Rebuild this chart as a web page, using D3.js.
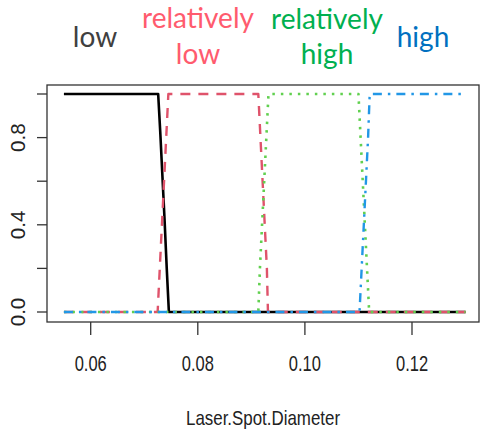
<!DOCTYPE html>
<html>
<head>
<meta charset="utf-8">
<script src="https://cdn.jsdelivr.net/npm/d3@7"></script>
<style>
	body { margin: 0; background: #fff; }
	svg { display: block; }
</style>
</head>
<body>
<div id="chart"></div>
<script>
(function(){
	'use strict';

	// x values (Laser.Spot.Diameter) and predicted probability for each class
	var xLow = [0.055, 0.0726, 0.0730, 0.0734, 0.0738, 0.0742, 0.0746, 0.13];
	var yLow = [1, 1, 0.82, 0.62, 0.42, 0.2, 0, 0];

	var xRelLow = [0.055, 0.0725, 0.0729, 0.0733, 0.0737, 0.0741, 0.0745, 0.0913, 0.0917, 0.0921, 0.0925, 0.0929, 0.0931, 0.13];
	var yRelLow = [0, 0, 0.2, 0.4, 0.6, 0.8, 1, 1, 0.8, 0.6, 0.4, 0.2, 0, 0];

	var xRelHigh = [0.055, 0.0913, 0.0916, 0.0920, 0.0924, 0.0928, 0.0932, 0.1100, 0.1104, 0.1108, 0.1112, 0.1116, 0.1120, 0.13];
	var yRelHigh = [0, 0, 0.2, 0.4, 0.6, 0.8, 1, 1, 0.8, 0.6, 0.4, 0.2, 0, 0];

	var xHigh = [0.055, 0.1102, 0.1106, 0.1110, 0.1114, 0.1118, 0.1121, 0.13];
	var yHigh = [0, 0, 0.2, 0.4, 0.6, 0.8, 1, 1];

	var xTicks = [0.06, 0.08, 0.10, 0.12];
	var yTicks = [0, 0.2, 0.4, 0.6, 0.8, 1.0];
	var yTickLabels = ["0.0", "", "0.4", "", "0.8", ""];

	var classNames = ["low", "relatively low", "relatively high", "high"];
	var lineColors = ["#000000", "#DF536B", "#61D04F", "#2297E6"];
	var textColors = ["#404040", "#FF5B6E", "#00B050", "#0070C0"];

	var width = 480, height = 429;
	var box = {left: 47, top: 85, right: 479, bottom: 322};

	var svg = d3.select("#chart").append("svg")
		.attr("width", width)
		.attr("height", height);

	var xScale = d3.scaleLinear().domain([0.06, 0.12]).range([90.7, 412]);
	var yScale = d3.scaleLinear().domain([0, 1]).range([312, 94]);

	// plot frame
	svg.append("rect")
		.attr("x", box.left)
		.attr("y", box.top)
		.attr("width", box.right - box.left)
		.attr("height", box.bottom - box.top)
		.attr("fill", "none")
		.attr("stroke", "#333")
		.attr("stroke-width", 1.3);

	// y axis
	var yAxis = svg.append("g").attr("class", "axis");
	yAxis.selectAll("line")
		.data(yTicks)
	  .enter().append("line")
		.attr("x1", 37).attr("x2", box.left)
		.attr("y1", yScale).attr("y2", yScale)
		.attr("stroke", "#333")
		.attr("stroke-width", 1.3);
	yAxis.selectAll("text")
		.data(yTicks)
	  .enter().append("text")
		.attr("transform", function(d){ return "translate(25," + yScale(d) + ") rotate(-90) scale(1.25,1.2)"; })
		.attr("text-anchor", "middle")
		.style("font-family", "'Liberation Sans', Arial, sans-serif")
		.style("font-size", "16.5px")
		.attr("fill", "#222")
		.text(function(d, i){ return yTickLabels[i]; });

	// x axis
	var xAxis = svg.append("g").attr("class", "axis");
	xAxis.selectAll("line")
		.data(xTicks)
	  .enter().append("line")
		.attr("x1", xScale).attr("x2", xScale)
		.attr("y1", box.bottom).attr("y2", 335)
		.attr("stroke", "#333")
		.attr("stroke-width", 1.3);
	xAxis.selectAll("text")
		.data(xTicks)
	  .enter().append("text")
		.attr("transform", function(d){ return "translate(" + xScale(d) + ",371) scale(1,1.3)"; })
		.attr("text-anchor", "middle")
		.style("font-family", "'Liberation Sans', Arial, sans-serif")
		.style("font-size", "16.5px")
		.attr("fill", "#222")
		.text(function(d){ return d3.format(".2f")(d); });

	svg.append("text")
		.attr("transform", "translate(" + ((box.left + box.right) / 2) + ",425) scale(1,1.25)")
		.attr("text-anchor", "middle")
		.style("font-family", "'Liberation Sans', Arial, sans-serif")
		.style("font-size", "16.9px")
		.attr("fill", "#222")
		.text("Laser.Spot.Diameter");

	// curves, drawn in class order like matplot
	var series = [
		{x: xLow, y: yLow, dash: null, w: 2.6},
		{x: xRelLow, y: yRelLow, dash: "10,8", w: 2.4},
		{x: xRelHigh, y: yRelHigh, dash: "2.5,6", w: 2.6},
		{x: xHigh, y: yHigh, dash: "9,6,2.5,6", w: 2.4}
	];

	var line = d3.line()
		.x(function(d){ return xScale(d[0]); })
		.y(function(d){ return yScale(d[1]); });

	series.forEach(function(s, i){
		var pts = s.x.map(function(v, j){ return [v, s.y[j]]; });
		svg.append("path")
			.datum(pts)
			.attr("d", line)
			.attr("fill", "none")
			.attr("stroke", lineColors[i])
			.attr("stroke-width", s.w)
			.attr("stroke-dasharray", s.dash)
			.attr("stroke-linejoin", "round");
	});

	// class labels above the plot
	var labels = [
		{lines: ["low"], cx: 95, y: [47]},
		{lines: ["relatively", "low"], cx: 198, y: [28, 64]},
		{lines: ["relatively", "high"], cx: 327, y: [29, 64]},
		{lines: ["high"], cx: 423, y: [47]}
	];

	labels.forEach(function(l, i){
		l.lines.forEach(function(t, j){
			svg.append("text")
				.attr("x", l.cx)
				.attr("y", l.y[j])
				.attr("text-anchor", "middle")
				.style("font-family", "Lato, 'Open Sans', sans-serif")
				.style("font-size", "28px")
				.attr("fill", textColors[i])
				.text(t);
		});
	});
})();
</script>
</body>
</html>
